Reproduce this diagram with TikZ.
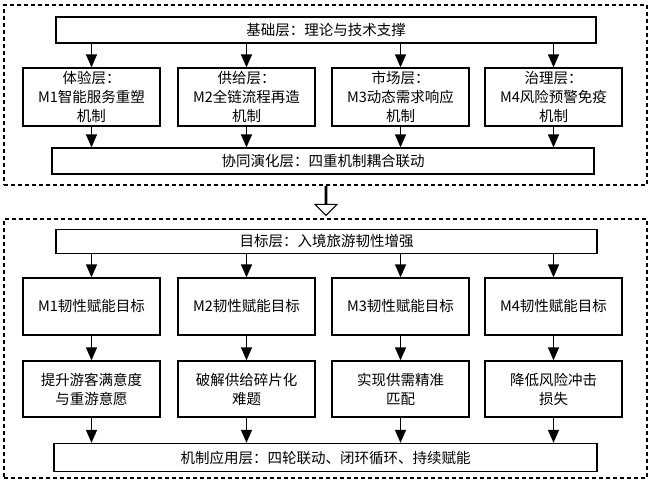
\documentclass[tikz,border=0pt]{standalone}
\usepackage{fontspec}
\setmainfont{Noto Sans CJK SC}
\usetikzlibrary{arrows.meta,shapes.arrows}

\begin{document}
\begin{tikzpicture}[x=1pt, y=-1pt,
    box/.style={draw, line width=1.3pt, inner sep=0pt, align=center,
        font=\fontsize{14.5}{19}\selectfont},
    cell/.style={box, minimum width=137pt},
    frame/.style={draw, line width=1.1pt, dash pattern=on 4pt off 3pt, inner sep=0pt},
    arr/.style={-{Triangle[width=11pt,length=13pt]}, line width=1.3pt}]

    \useasboundingbox (0,0) rectangle (651,482);

    \node[frame, minimum width=643pt, minimum height=180pt] (upper) at (325.5,95) {};
    \node[frame, minimum width=643pt, minimum height=259pt] (lower) at (325.5,348.5) {};

    \node[box, minimum width=540pt, minimum height=26pt] (base) at (326,30) {基础层：理论与技术支撑};

    \node[cell, minimum height=58pt] (m1) at (91.5,97) {体验层：\\M1智能服务重塑\\机制};
    \node[cell, minimum height=58pt] (m2) at (246.5,97) {供给层：\\M2全链流程再造\\机制};
    \node[cell, minimum height=58pt] (m3) at (400.5,97) {市场层：\\M3动态需求响应\\机制};
    \node[cell, minimum height=58pt] (m4) at (553.5,97) {治理层：\\M4风险预警免疫\\机制};

    \node[box, minimum width=542pt, minimum height=26pt] (coop) at (323,161) {协同演化层：四重机制耦合联动};

    \node[single arrow, draw, fill=white, line width=1.1pt, shape border rotate=270,
        minimum height=29pt, minimum width=22pt, single arrow head extend=7.5pt,
        inner sep=0pt] (shift) at (326,200.5) {};

    \node[box, minimum width=541pt, minimum height=24pt] (goal) at (326.5,241.5) {目标层：入境旅游韧性增强};

    \node[cell, minimum height=57pt] (g1) at (91.5,306.5) {M1韧性赋能目标};
    \node[cell, minimum height=57pt] (g2) at (246.5,306.5) {M2韧性赋能目标};
    \node[cell, minimum height=57pt] (g3) at (400.5,306.5) {M3韧性赋能目标};
    \node[cell, minimum height=57pt] (g4) at (553.5,306.5) {M4韧性赋能目标};

    \node[cell, minimum height=56pt] (o1) at (91.5,389) {提升游客满意度\\与重游意愿};
    \node[cell, minimum height=56pt] (o2) at (246.5,389) {破解供给碎片化\\难题};
    \node[cell, minimum height=56pt] (o3) at (400.5,389) {实现供需精准\\匹配};
    \node[cell, minimum height=56pt] (o4) at (553.5,389) {降低风险冲击\\损失};

    \node[box, minimum width=543pt, minimum height=28pt] (app) at (325.5,457.5) {机制应用层：四轮联动、闭环循环、持续赋能};

    \foreach \i in {1,...,4} {
        \draw[arr] (base.south -| m\i.north) -- (m\i.north);
        \draw[arr] (m\i.south) -- (m\i.south |- coop.north);
        \draw[arr] (goal.south -| g\i.north) -- (g\i.north);
        \draw[arr] (g\i.south) -- (o\i.north);
        \draw[arr] (o\i.south) -- (o\i.south |- app.north);
    }

\end{tikzpicture}
\end{document}
